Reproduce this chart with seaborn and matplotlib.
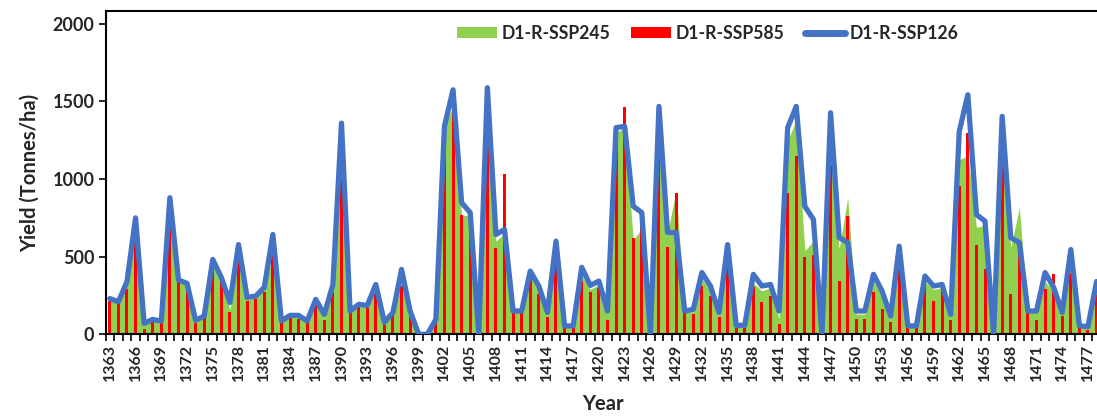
import numpy as np
import pandas as pd
import matplotlib
matplotlib.use("Agg")
import matplotlib.pyplot as plt
import seaborn as sns
from matplotlib.patches import Patch
from matplotlib.lines import Line2D

years = list(range(1363, 1479))

ssp245 = [220, 200, 320, 640, 60, 90, 80, 720, 340, 315,
          85, 110, 450, 355, 160, 480, 225, 235, 285, 520,
          80, 115, 110, 80, 200, 110, 290, 1060, 150, 180,
          180, 290, 70, 135, 360, 145, 0, 0, 90, 1340,
          1470, 770, 760, 0, 1250, 600, 650, 145, 145, 380,
          290, 130, 620, 50, 50, 380, 290, 320, 130, 1300,
          1330, 610, 680, 0, 1200, 650, 930, 145, 145, 360,
          280, 130, 480, 50, 50, 330, 280, 300, 100, 1250,
          1380, 540, 600, 0, 1150, 550, 880, 130, 130, 340,
          250, 100, 450, 50, 50, 340, 290, 300, 110, 1125,
          1150, 690, 700, 0, 1150, 560, 816, 150, 140, 340,
          280, 130, 420, 50, 45, 300]

ssp585 = [215, 200, 290, 611, 32, 77, 70, 696, 334, 300,
          75, 105, 430, 350, 141, 463, 214, 225, 270, 503,
          70, 110, 100, 70, 180, 90, 270, 1000, 150, 175,
          170, 260, 60, 128, 311, 141, 0, 0, 80, 1234,
          1468, 771, 740, 0, 1254, 559, 1035, 141, 141, 354,
          257, 110, 450, 40, 40, 343, 270, 300, 90, 1250,
          1462, 620, 696, 0, 1190, 560, 913, 141, 128, 311,
          246, 110, 439, 40, 40, 302, 205, 246, 64, 913,
          1147, 495, 514, 0, 1093, 343, 761, 96, 96, 272,
          161, 77, 418, 40, 40, 321, 214, 280, 90, 954,
          1299, 578, 418, 0, 1125, 257, 570, 193, 90, 289,
          386, 120, 398, 40, 30, 250]

ssp126 = [230, 210, 340, 750, 70, 96, 85, 880, 350, 328,
          90, 118, 482, 366, 205, 578, 238, 246, 302, 643,
          86, 122, 122, 86, 225, 128, 321, 1360, 150, 193,
          186, 321, 77, 141, 418, 150, 0, 0, 96, 1340,
          1575, 848, 784, 0, 1588, 643, 675, 150, 150, 407,
          311, 141, 600, 54, 54, 431, 315, 343, 150, 1331,
          1340, 825, 784, 0, 1468, 656, 656, 150, 161, 398,
          311, 141, 578, 58, 58, 386, 311, 321, 150, 1331,
          1468, 825, 740, 0, 1427, 623, 591, 150, 150, 386,
          279, 118, 568, 54, 54, 375, 311, 321, 128, 1307,
          1543, 771, 729, 0, 1404, 623, 591, 150, 150, 398,
          302, 141, 546, 54, 50, 340]

labels = ["D1-R-SSP245", "D1-R-SSP585", "D1-R-SSP126"]
GREEN, RED, BLUE = "#92D050", "#FF0000", "#4472C4"

sns.set_theme(style="ticks")
plt.rcParams['font.family'] = ['Lato', 'DejaVu Sans']

df = pd.DataFrame({"Year": years, "SSP245": ssp245,
                   "SSP585": ssp585, "SSP126": ssp126})
df["pos"] = np.arange(len(years))

fig = plt.figure(figsize=(10.97, 4.16), dpi=100)
ax = fig.add_axes([0.0962, 0.1964, 0.9073, 0.778])

ax.fill_between(df["pos"], df["SSP245"], color=GREEN, lw=0, zorder=1)
sns.barplot(data=df, x="pos", y="SSP585", color=RED, width=0.35,
            saturation=1, ax=ax, zorder=2, order=list(df["pos"]),
            edgecolor="none", linewidth=0)
sns.lineplot(x=df["pos"].to_numpy(), y=df["SSP126"].to_numpy(), color=BLUE,
             lw=3.8, ax=ax, zorder=3, solid_joinstyle="round",
             solid_capstyle="round")

ax.set_xlim(-0.5, len(years) - 0.5)
ax.set_ylim(0, 2085)
ax.set_yticks([0, 500, 1000, 1500, 2000])
ax.set_yticklabels(["0", "500", "1000", "1500", "2000"], fontsize=13, fontweight="bold")
ax.set_xticks(np.arange(0, len(years), 3))
ax.set_xticklabels([str(y) for y in years[::3]], rotation=90, fontsize=11.5,
                   fontweight="bold")
ax.set_xticks(np.arange(-0.5, len(years), 1), minor=True)
ax.tick_params(axis="x", which="major", length=0, pad=7)
ax.tick_params(axis="x", which="minor", length=5, width=1.2, color="black", direction="out")
ax.tick_params(axis="y", length=5, width=1.2, color="black", direction="out", pad=3)

for s in ["top", "left", "bottom"]:
    ax.spines[s].set_color("black")
    ax.spines[s].set_linewidth(1.5)
ax.spines["right"].set_visible(False)

ax.set_xlabel("Year", fontsize=14.5, fontweight="bold", labelpad=9)
ax.set_ylabel("Yield (Tonnes/ha)", fontsize=14.5, fontweight="bold", labelpad=9)

handles = [Patch(facecolor=GREEN, edgecolor="none"),
           Patch(facecolor=RED, edgecolor="none"),
           Line2D([0], [0], color=BLUE, lw=5, solid_capstyle="round")]
ax.legend(handles, labels, loc="center", bbox_to_anchor=(0.605, 0.93), ncol=3,
          frameon=False, prop={"weight": "bold", "size": 12.7},
          handlelength=2.25, handleheight=0.55, columnspacing=1.2, handletextpad=0.25)

fig.savefig("out.png", dpi=100)
